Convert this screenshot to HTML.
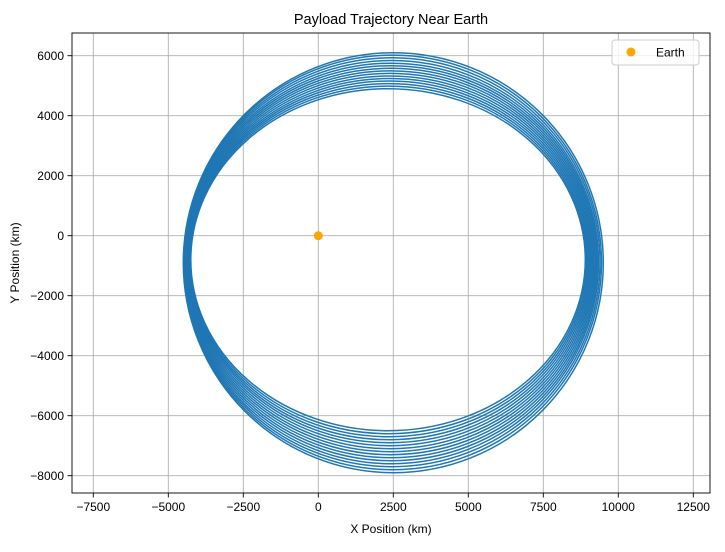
<!DOCTYPE html>
<html><head><meta charset="utf-8"><style>
body{margin:0;background:#fff;}
svg text{font-family:"Liberation Sans","DejaVu Sans",sans-serif;fill:#000;}
</style></head><body>
<svg id="chart" width="725" height="547" xmlns="http://www.w3.org/2000/svg">
<rect width="725" height="547" fill="#fff"/>
<text x="391" y="24" font-size="14.5" text-anchor="middle">Payload Trajectory Near Earth</text>
<g id="grid"></g>
<g id="orbits"></g>
<g id="earth"></g>
<rect x="72" y="33" width="638" height="460" fill="none" stroke="#000" stroke-width="0.9"/>
<g id="ticks"></g>
<text x="391" y="533" font-size="12" text-anchor="middle">X Position (km)</text>
<text transform="translate(19,263) rotate(-90)" font-size="12" text-anchor="middle">Y Position (km)</text>
<g>
<rect x="612" y="40" width="87" height="25" rx="3" fill="#fff" fill-opacity="0.8" stroke="#ccc"/>
<circle cx="631" cy="52" r="4.5" fill="#ffa500"/>
<text x="656" y="56.5" font-size="12">Earth</text>
</g>
</svg>
<script>
const xTicks=[-7500,-5000,-2500,0,2500,5000,7500,10000,12500];
const yTicks=[-8000,-6000,-4000,-2000,0,2000,4000,6000];
const orbitTop=[4900,4985,5070,5155,5240,5325,5410,5495,5580,5665,5750,5840,5930,6020,6100];
const orbitBottom=[-6500,-6600,-6700,-6800,-6900,-7000,-7100,-7200,-7300,-7400,-7500,-7600,-7700,-7800,-7900];
const orbitLeft=[-4250,-4270,-4290,-4305,-4320,-4340,-4360,-4380,-4400,-4420,-4440,-4460,-4475,-4490,-4500];
const orbitRight=[8900,8940,8980,9020,9060,9100,9140,9180,9220,9260,9300,9340,9390,9440,9500];
const earth=[0,0];
const sx=v=>318.3+v*75/2500;
const sy=v=>235.7-v*60/2000;
const NS="http://www.w3.org/2000/svg";
const grid=document.getElementById('grid'),ticks=document.getElementById('ticks');
function mk(t,a,p){const e=document.createElementNS(NS,t);for(const k in a)e.setAttribute(k,a[k]);p.appendChild(e);return e;}
xTicks.forEach(v=>{const x=sx(v);
 const g=mk('line',{x1:x,x2:x,y1:33,y2:493,stroke:'#b0b0b0','stroke-width':0.9},grid);
 
 
 mk('line',{x1:x,x2:x,y1:493,y2:497.5,stroke:'#000','stroke-width':0.9},ticks);
 const t=mk('text',{x:x,y:511,'font-size':12,'text-anchor':'middle'},ticks);t.textContent=v<0?'\u2212'+(-v):String(v);
 
 
});
yTicks.forEach(v=>{const y=sy(v);
 const g=mk('line',{x1:72,x2:710,y1:y,y2:y,stroke:'#b0b0b0','stroke-width':0.9},grid);
 
 
 mk('line',{x1:67.5,x2:72,y1:y,y2:y,stroke:'#000','stroke-width':0.9},ticks);
 const t=mk('text',{x:64,y:y+4.3,'font-size':12,'text-anchor':'end'},ticks);t.textContent=v<0?'\u2212'+(-v):String(v);
 
 
});
const og=document.getElementById('orbits');
orbitTop.forEach((top,i)=>{
 const cx=(orbitLeft[i]+orbitRight[i])/2,a=(orbitRight[i]-orbitLeft[i])/2;
 const cy=(top+orbitBottom[i])/2,b=(top-orbitBottom[i])/2;
 const e=mk('ellipse',{cx:sx(cx),cy:sy(cy),rx:a*75/2500,ry:b*60/2000,fill:'none',stroke:'#1f77b4','stroke-width':1.5},og);
 
 
});
const c=mk('circle',{cx:sx(earth[0]),cy:sy(earth[1]),r:4.5,fill:'#ffa500'},document.getElementById('earth'));


</script>
</body></html>
